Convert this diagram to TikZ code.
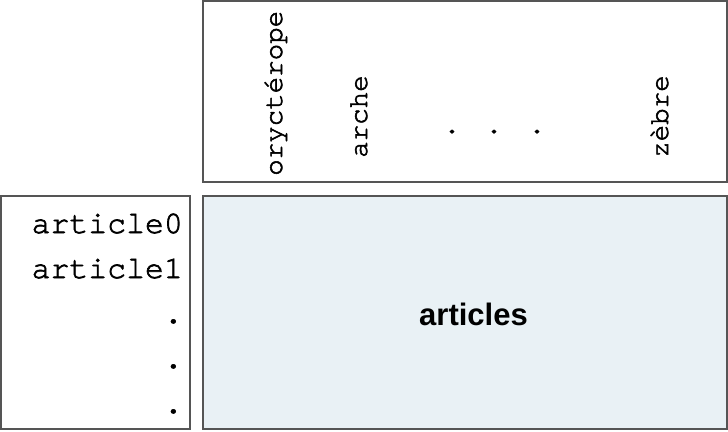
\documentclass[tikz,border=0pt]{standalone}
\usepackage{fontspec}
\setmonofont{TeX Gyre Cursor}[FakeBold=2]
\setsansfont{Liberation Sans}
\usepackage{tikz}
\usetikzlibrary{shapes, positioning}
\usepackage{color}
\definecolor{paleblue}{RGB}{233,241,245}
\definecolor{boxgray}{RGB}{85,85,85}
\tikzset{
  box/.style={rectangle, line width=1.2pt, draw=boxgray, inner sep=0pt},
  word/.style={rotate=90, anchor=base west, inner sep=0pt, font=\ttfamily\fontsize{27.5}{30}\selectfont},
  rowlabel/.style={anchor=base east, inner sep=0pt, font=\ttfamily\fontsize{31.5}{36}\selectfont},
  gap/.style={anchor=base, inner sep=0pt, font=\ttfamily\fontsize{27.5}{30}\selectfont}
}

\begin{document}
\begin{tikzpicture}[x=1pt, y=-1pt]
\useasboundingbox (0, 0) rectangle (728, 431);
\node[box, minimum width=524pt, minimum height=181pt] (words) at (465, 91.5) {};
\node[box, minimum width=189pt, minimum height=233pt] (rows) at (95.5, 312.5) {};
\node[box, fill=paleblue, minimum width=524pt, minimum height=233pt] (table) at (465, 312.5) {};
\node[word] (w0) at (282, 176) {oryctérope};
\node[word] (w1) at (367, 158) {arche};
\node[gap] (g0) at (452, 133) {.};
\node[gap] (g1) at (494, 133) {.};
\node[gap] (g2) at (537, 133) {.};
\node[word] (wz) at (668, 158) {zèbre};
\node[rowlabel] (r0) at (183, 233) {article0};
\node[rowlabel] (r1) at (183, 278) {article1};
\node[rowlabel] (r2) at (183, 323) {.};
\node[rowlabel] (r3) at (183, 368) {.};
\node[rowlabel] (r4) at (183, 413) {.};
\node[anchor=base, inner sep=0pt, font=\sffamily\bfseries\fontsize{31}{36}\selectfont] (label) at (473.5, 325) {articles};
\end{tikzpicture}
\end{document}
